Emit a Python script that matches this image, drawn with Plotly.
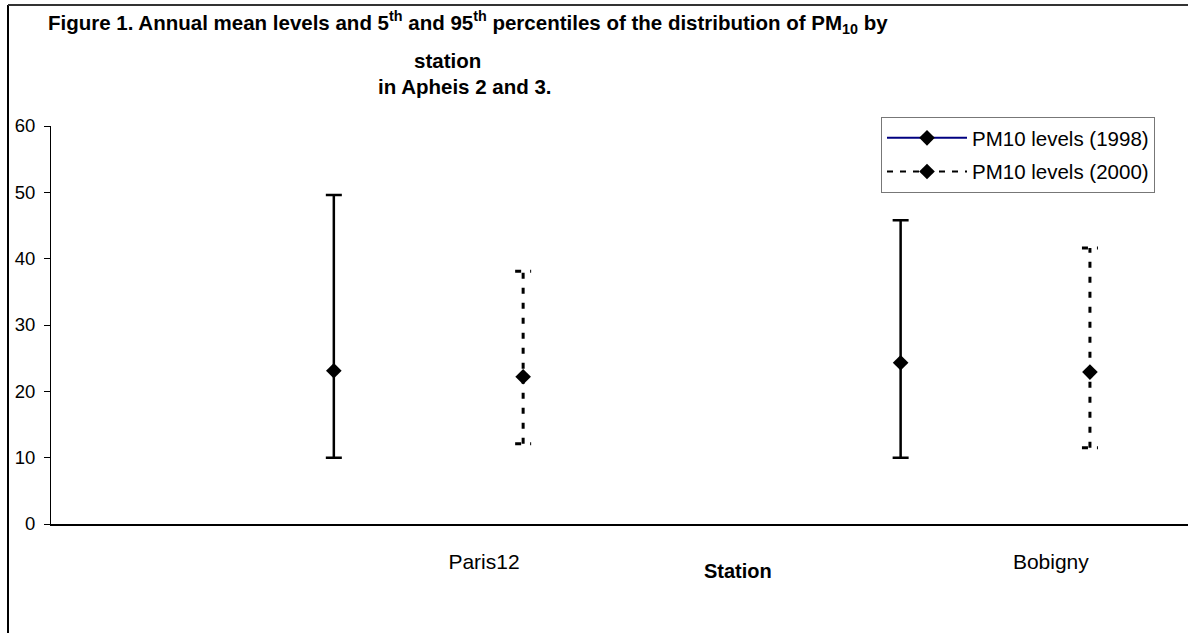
import plotly.graph_objects as go

# ---- data ----
stations = ["Paris12", "Bobigny"]
mean_1998 = [23.1, 24.3]
p5_1998 = [10.0, 10.0]
p95_1998 = [49.6, 45.8]
mean_2000 = [22.2, 22.9]
p5_2000 = [12.1, 11.5]
p95_2000 = [38.1, 41.6]
y_ticks = [0, 10, 20, 30, 40, 50, 60]

# ---- layout helpers (positions in axis units) ----
station_pos = [0, 1]
off_1998 = -0.265
off_2000 = 0.069
cap_half = 0.0141
FONT = "Liberation Sans, Arial, sans-serif"

x98 = [p + off_1998 for p in station_pos]
x00 = [p + off_2000 for p in station_pos]


def gapped(xs, ys):
    ox, oy = [], []
    for a, b in zip(xs, ys):
        ox += [a, None]
        oy += [b, None]
    return ox, oy


fig = go.Figure()

# 1998 : solid error bars
fig.add_trace(go.Scatter(
    x=x98, y=mean_1998, mode="markers", showlegend=False, hoverinfo="skip",
    marker=dict(size=0.1, color="black"),
    error_y=dict(type="data", symmetric=False,
                 array=[h - m for h, m in zip(p95_1998, mean_1998)],
                 arrayminus=[m - l for m, l in zip(mean_1998, p5_1998)],
                 color="black", thickness=2.5, width=8)))

# 2000 : dashed error bars
ex, ey = [], []
for x, lo, hi in zip(x00, p5_2000, p95_2000):
    ex += [x, x, None]
    ey += [lo, hi, None]
    ex += [x - cap_half, x + cap_half, None, x - cap_half, x + cap_half, None]
    ey += [lo, lo, None, hi, hi, None]
fig.add_trace(go.Scatter(x=ex, y=ey, mode="lines", showlegend=False, hoverinfo="skip",
                         line=dict(color="black", width=3, dash="6px,9px")))

gx, gy = gapped(x98, mean_1998)
fig.add_trace(go.Scatter(
    x=gx, y=gy, mode="lines+markers", name="PM10 levels (1998)",
    legendgroup="a", connectgaps=False,
    line=dict(color="#000080", width=2),
    marker=dict(symbol="diamond", size=12, color="black")))

gx, gy = gapped(x00, mean_2000)
fig.add_trace(go.Scatter(
    x=gx, y=gy, mode="lines+markers", name="PM10 levels (2000)",
    legendgroup="b", connectgaps=False,
    line=dict(color="black", width=2, dash="6px,7px"),
    marker=dict(symbol="diamond", size=12, color="black")))

L, T, B = 51, 126, 109
W, H = 1188, 633
PW, PH = W - L, H - T - B


def px_x(p):
    return (p - L) / PW


def px_y(p):
    return (T + PH - p) / PH


fig.update_layout(
    width=W, height=H,
    margin=dict(l=L, r=0, t=T, b=B, pad=0),
    paper_bgcolor="white", plot_bgcolor="white",
    font=dict(family=FONT, color="black", size=16),
    showlegend=True,
    legend=dict(x=px_x(881), y=px_y(117), xanchor="left", yanchor="top",
                bordercolor="#777777", borderwidth=1, bgcolor="white",
                font=dict(family=FONT, size=20.5, color="black"),
                itemwidth=80, traceorder="grouped", tracegroupgap=4),
    xaxis=dict(range=[-0.764, 1.242], tickmode="array", tickvals=station_pos,
               ticktext=stations, showgrid=False, zeroline=False,
               showline=True, linecolor="black", linewidth=1.5, ticks="",
               ticklabelstandoff=18, tickfont=dict(family=FONT, size=21)),
    yaxis=dict(range=[0, 60], tickmode="array", tickvals=y_ticks,
               showgrid=False, zeroline=False, showline=True, linecolor="black",
               linewidth=1, ticks="outside", ticklen=6, tickcolor="black",
               ticklabelstandoff=5, tickfont=dict(family=FONT, size=18.5)),
)

title_lines = [
    ("Figure 1. Annual mean levels and 5<sup>th</sup> and 95<sup>th</sup> percentiles of the distribution of PM<sub>10</sub> by", 468, 23),
    ("station", 447, 60),
    ("in Apheis 2 and 3.", 465, 87),
]
for txt, cx, cy in title_lines:
    fig.add_annotation(text="<b>" + txt + "</b>", xref="paper", yref="paper",
                       x=px_x(cx), y=px_y(cy), xanchor="center", yanchor="middle",
                       showarrow=False, font=dict(family=FONT, size=20.5, color="black"))

fig.add_annotation(text="<b>Station</b>", xref="paper", yref="paper",
                   x=px_x(738), y=px_y(571), xanchor="center", yanchor="middle",
                   showarrow=False, font=dict(family=FONT, size=20, color="black"))

# outer frame (left and top only visible)
fig.add_shape(type="line", xref="paper", yref="paper",
              x0=px_x(8), x1=px_x(8), y0=px_y(5), y1=px_y(640),
              line=dict(color="black", width=2))
fig.add_shape(type="line", xref="paper", yref="paper",
              x0=px_x(8), x1=px_x(1195), y0=px_y(5), y1=px_y(5),
              line=dict(color="#333333", width=2))

fig.write_html("out.html")
